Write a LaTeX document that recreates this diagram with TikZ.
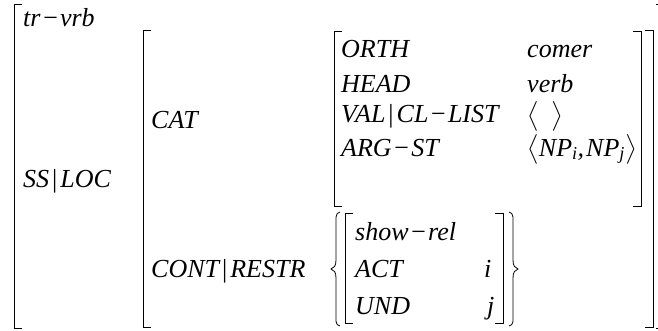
\documentclass[tikz,border=0pt]{standalone}
\usepackage{fontspec}
\usepackage{amsmath}
\usepackage{exscale}
\setmainfont{Liberation Serif}
\newfontfamily\avmfont{Liberation Serif}[ItalicFont={Liberation Serif Italic}]
\newcommand{\avmbar}{\kern3pt{\upshape|}\kern3pt}
\newcommand{\avmminus}{\kern1pt−\kern1pt}

\begin{document}
\begin{tikzpicture}[x=1pt, y=-1pt,
    avm/.style={anchor=base west, inner sep=0pt, font=\fontsize{26}{30}\avmfont\itshape},
    brk/.style={line width=0.9pt},
    brc/.style={line width=0.8pt}]
    \useasboundingbox (0,0) rectangle (658,330);

    % Outer matrix
    \draw[brk] (22,4) -- (14,4) -- (14,328) -- (22,328);
    \draw[brk] (656,4) -- (658,4);
    \draw[brk] (656,328) -- (658,328);
    \node[avm] (type) at (23,26) {tr\avmminus vrb};
    \node[avm] (ssloc) at (23,187) {SS\avmbar LOC};

    % SS|LOC value
    \draw[brk] (151,30) -- (143,30) -- (143,327) -- (151,327);
    \draw[brk] (645,30) -- (653,30) -- (653,327) -- (645,327);
    \node[avm] (cat) at (151,128) {CAT};
    \node[avm] (cont) at (151,277) {CONT\avmbar RESTR};

    % CAT value
    \draw[brk] (342,31) -- (334,31) -- (334,206) -- (342,206);
    \draw[brk] (633,31) -- (641,31) -- (641,206) -- (633,206);
    \node[avm] (orth) at (341,57) {ORTH};
    \node[avm] (orthval) at (527,57) {comer};
    \node[avm] (head) at (341,92) {HEAD};
    \node[avm] (headval) at (527,92) {verb};
    \node[avm] (val) at (341,122) {VAL\avmbar CL\avmminus LIST};
    \node[avm, font=\fontsize{23}{27}\avmfont\itshape] (valval) at (527,123) {$\bigl\langle\,\,\,\bigr\rangle$};
    \node[avm] (arg) at (341,156) {ARG\avmminus ST};
    \node[avm] (argval) at (527,156) {$\bigl\langle$NP$_{\textit{i}}$,\kern2pt NP$_{\textit{j}}\bigr\rangle$};

    % CONT|RESTR value
    \draw[brc] (340,212) .. controls (335,213) and (336,218) .. (336,228) -- (336,260)
        .. controls (336,266) and (334,268) .. (331,269) .. controls (334,270) and (336,272) .. (336,278)
        -- (336,310) .. controls (336,321) and (335,325) .. (340,326);
    \draw[brc] (509,212) .. controls (514,213) and (513,218) .. (513,228) -- (513,260)
        .. controls (513,266) and (515,268) .. (518,269) .. controls (515,270) and (513,272) .. (513,278)
        -- (513,310) .. controls (513,321) and (514,325) .. (509,326);
    \draw[brk] (353,213) -- (345,213) -- (345,323) -- (353,323);
    \draw[brk] (495,213) -- (503,213) -- (503,323) -- (495,323);
    \node[avm] (rel) at (355,240) {show\avmminus rel};
    \node[avm] (act) at (355,277) {ACT};
    \node[avm] (actval) at (484,277) {i};
    \node[avm] (und) at (355,314) {UND};
    \node[avm] (undval) at (487,314) {j};
\end{tikzpicture}
\end{document}
